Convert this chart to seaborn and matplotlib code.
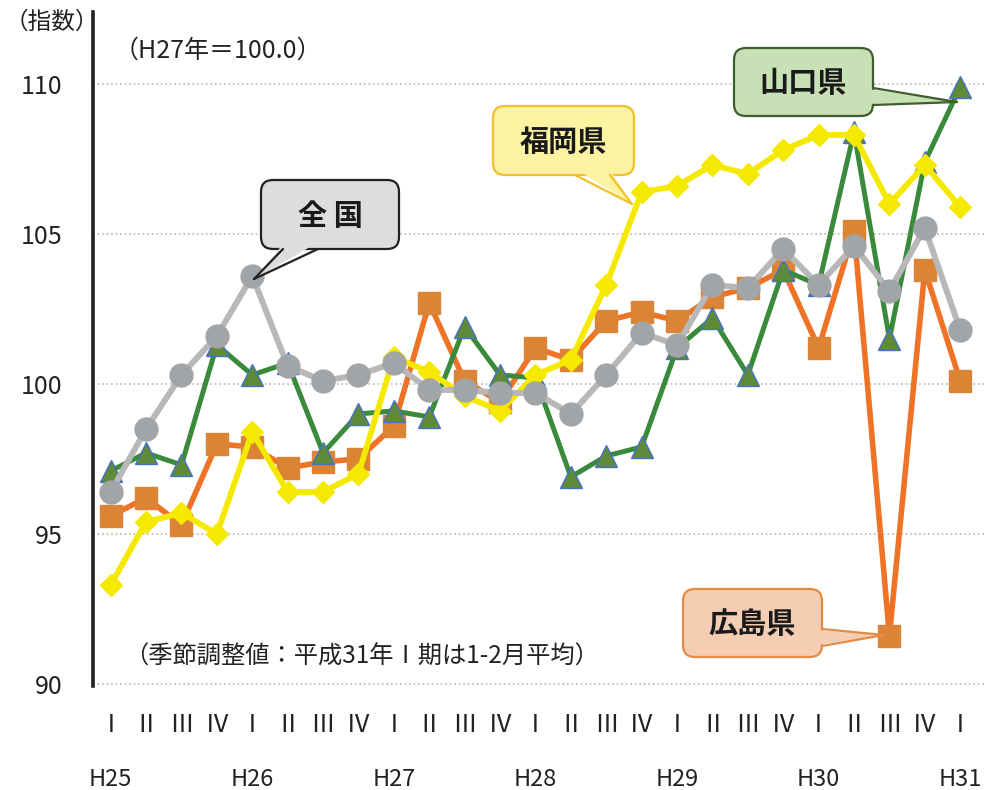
import matplotlib
matplotlib.use("Agg")
import matplotlib.pyplot as plt
import seaborn as sns
import numpy as np
import pandas as pd
from matplotlib.patches import FancyBboxPatch, Polygon
from matplotlib.lines import Line2D
from matplotlib.transforms import IdentityTransform, blended_transform_factory

# ---------------- data ----------------
quarters = ["Ⅰ", "Ⅱ", "Ⅲ", "Ⅳ"] * 6 + ["Ⅰ"]
years = ["H25", "H26", "H27", "H28", "H29", "H30", "H31"]
national = [96.4, 98.5, 100.3, 101.6, 103.6, 100.6, 100.1, 100.3, 100.7, 99.8,
            99.8, 99.7, 99.7, 99.0, 100.3, 101.7, 101.3, 103.3, 103.2, 104.5,
            103.3, 104.6, 103.1, 105.2, 101.8]
yamaguchi = [97.1, 97.7, 97.3, 101.3, 100.3, 100.7, 97.7, 99.0, 99.1, 98.9,
             101.9, 100.3, 100.2, 96.9, 97.6, 97.9, 101.2, 102.2, 100.3, 103.8,
             103.3, 108.4, 101.5, 107.4, 109.9]
hiroshima = [95.6, 96.2, 95.3, 98.0, 97.9, 97.2, 97.4, 97.5, 98.6, 102.7,
             100.1, 99.4, 101.2, 100.8, 102.1, 102.4, 102.1, 102.9, 103.2, 103.8,
             101.2, 105.1, 91.6, 103.8, 100.1]
fukuoka = [93.3, 95.4, 95.7, 95.0, 98.4, 96.4, 96.4, 97.0, 100.9, 100.4,
           99.6, 99.1, 100.3, 100.8, 103.3, 106.4, 106.6, 107.3, 107.0, 107.8,
           108.3, 108.3, 106.0, 107.3, 105.9]
yticks = [90, 95, 100, 105, 110]

idx = np.arange(len(quarters))

# ---------------- style ----------------
sns.set_theme(style="white")
plt.rcParams["font.family"] = ["Noto Sans CJK JP", "DejaVu Sans"]

W, H = 986, 790
fig = plt.figure(figsize=(W / 100, H / 100), dpi=100)
ax = fig.add_axes([93 / W, (H - 686) / H, 892 / W, (686 - 12) / H])

# series: (values, line colour, marker, marker face, marker edge, lw, ms, zorder)
series = [
    (hiroshima, "#ee7326", "s", "#dc8436", "#dc8436", 4.0, 16.5, 2),
    (yamaguchi, "#3a8a3c", "^", "#5f8a3a", "#4472c4", 3.6, 16.5, 3),
    (fukuoka, "#f6e900", "D", "#f6e900", "#f6e900", 4.2, 11.5, 4),
    (national, "#b8b8b8", "o", "#a2a5a8", "#a2a5a8", 4.3, 16.5, 5),
]
for vals, lc, mk, mfc, mec, lw, ms, z in series:
    sns.lineplot(x=idx, y=vals, ax=ax, color=lc, linewidth=lw, marker=mk,
                 markersize=ms, markerfacecolor=mfc, markeredgecolor=mec,
                 markeredgewidth=1.0, zorder=z)

ax.set_xlim(-0.5, 24.7)
ax.set_ylim(89.93, 112.4)

for v in yticks:
    ax.axhline(v, color="#c0c0c0", linestyle=(0, (1, 1.5)), linewidth=1.3, zorder=0)

for s in ["top", "right", "bottom"]:
    ax.spines[s].set_visible(False)
ax.spines["left"].set_color("#222222")
ax.spines["left"].set_linewidth(2.6)

ax.set_yticks(yticks)
ax.set_yticklabels([str(v) for v in yticks], fontsize=18, color="#222222")
ax.set_xticks(idx)
ax.set_xticklabels(quarters, fontsize=18, color="#222222")
ax.tick_params(axis="y", length=0, pad=22)
ax.tick_params(axis="x", length=0, pad=19)
ax.set_xlabel("")
ax.set_ylabel("")

trans = blended_transform_factory(ax.transData, ax.transAxes)
for i, yr in enumerate(years):
    ax.text(i * 4, -0.138, yr, transform=trans, ha="center", va="center",
            fontsize=17, color="#222222")

# texts
fig.text(5 / W, 1 - 22 / H, "（指数）", fontsize=17, color="#222222", va="center", ha="left")
fig.text(114 / W, 1 - 51 / H, "（H27年＝100.0）", fontsize=18, color="#222222", va="center", ha="left")
fig.text(124 / W, 1 - 657 / H, "（季節調整値：平成31年Ⅰ期は1-2月平均）", fontsize=17.5,
         color="#222222", va="center", ha="left")


def callout(box, base, inner, tip, text, fc, ec, tc="#1a1a1a"):
    x0, y0, x1, y1 = box
    t = IdentityTransform()
    p = FancyBboxPatch((x0, H - y1), x1 - x0, y1 - y0,
                       boxstyle="round,pad=0,rounding_size=12",
                       fc=fc, ec=ec, lw=1.6, transform=t, zorder=20)
    fig.add_artist(p)
    poly = Polygon([(inner[0][0], H - inner[0][1]), (inner[1][0], H - inner[1][1]),
                    (tip[0], H - tip[1])], closed=True, fc=fc, ec="none",
                   transform=t, zorder=21)
    fig.add_artist(poly)
    for b in base:
        fig.add_artist(Line2D([b[0], tip[0]], [H - b[1], H - tip[1]], color=ec,
                              lw=1.6, transform=t, zorder=22))
    fig.text((x0 + x1) / 2 / W, 1 - ((y0 + y1) / 2 + 1) / H, text, fontsize=21,
             fontweight="bold", color=tc, ha="center", va="center", zorder=23)


callout((261, 180, 399, 249), [(283, 249), (318, 249)], [(284, 243), (317, 243)],
        (254, 279), "全 国", "#dcdddf", "#222222")
callout((493, 106, 634, 175), [(575, 175), (610, 175)], [(576, 169), (609, 169)],
        (632, 204), "福岡県", "#fbf3a2", "#f0c22a")
callout((734, 48, 873, 116), [(873, 88), (873, 105)], [(867, 89), (867, 104)],
        (957, 102), "山口県", "#c7e0b5", "#3f5e2c")
callout((683, 589, 822, 657), [(822, 629), (822, 646)], [(816, 630), (816, 645)],
        (884, 635), "広島県", "#f4cdb3", "#e08c42")

fig.savefig("out.png", dpi=100)
